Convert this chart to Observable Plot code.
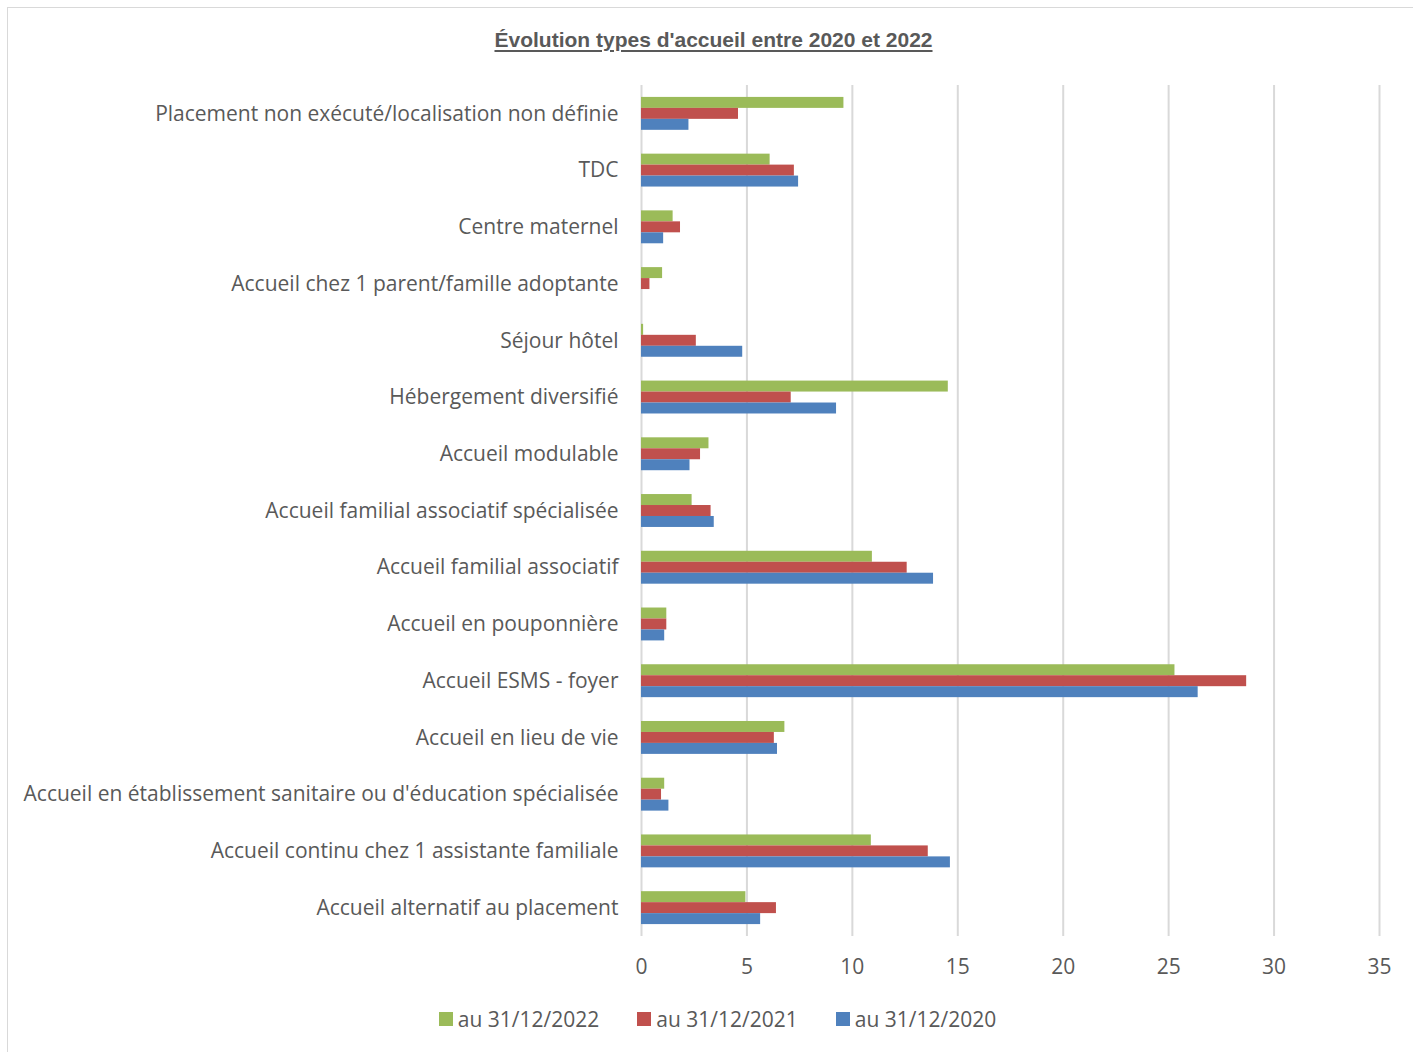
<!DOCTYPE html>
<html><head><meta charset="utf-8">
<script src="https://cdn.jsdelivr.net/npm/d3@7"></script>
<script src="https://cdn.jsdelivr.net/npm/@observablehq/plot@0.6"></script>
<style>
body{margin:0;background:#fff;overflow:hidden;}
#wrap{position:relative;width:1413px;height:1052px;}
#border{position:absolute;left:7px;top:7px;width:1420px;height:1060px;border:1px solid #d9d9d9;box-sizing:border-box;}
#title{position:relative;height:70px;box-sizing:border-box;padding-top:28px;padding-left:14px;text-align:center;font-family:"Liberation Sans",Arial,sans-serif;font-weight:bold;font-size:21px;color:#595959;}
#title span{text-decoration:underline;text-underline-offset:3px;}
#chart{position:relative;height:920px;}
#chart svg{position:absolute;left:0;top:0;}
#legend{position:relative;display:flex;justify-content:center;gap:38px;margin-top:15px;padding-left:22px;font-family:"Open Sans",sans-serif;font-size:21px;color:#595959;}
#legend .it{display:flex;align-items:center;gap:5px;}
#legend .sw{width:14px;height:14px;display:inline-block;}
</style></head>
<body><div id="wrap"><div id="border"></div>
<div id="title"><span>Évolution types d'accueil entre 2020 et 2022</span></div>
<div id="chart"></div>
<div id="legend"></div>
</div>
<script>
const categories = [
  "Placement non exécuté/localisation non définie",
  "TDC",
  "Centre maternel",
  "Accueil chez 1 parent/famille adoptante",
  "Séjour hôtel",
  "Hébergement diversifié",
  "Accueil modulable",
  "Accueil familial associatif spécialisée",
  "Accueil familial associatif",
  "Accueil en pouponnière",
  "Accueil ESMS - foyer",
  "Accueil en lieu de vie",
  "Accueil en établissement sanitaire ou d'éducation spécialisée",
  "Accueil continu chez 1 assistante familiale",
  "Accueil alternatif au placement"
];
const series = ["au 31/12/2022", "au 31/12/2021", "au 31/12/2020"];
const colors = ["#9BBB59", "#C0504D", "#4F81BD"];
const v2022 = [9.6, 6.1, 1.5, 1.0, 0.1, 14.55, 3.2, 2.4, 10.95, 1.2, 25.3, 6.8, 1.1, 10.9, 4.95];
const v2021 = [4.6, 7.25, 1.85, 0.4, 2.6, 7.1, 2.8, 3.3, 12.6, 1.2, 28.7, 6.3, 0.95, 13.6, 6.4];
const v2020 = [2.25, 7.45, 1.05, 0, 4.8, 9.25, 2.3, 3.45, 13.85, 1.1, 26.4, 6.45, 1.3, 14.65, 5.65];
const xTicks = [0, 5, 10, 15, 20, 25, 30, 35];

const valuesBySeries = [v2022, v2021, v2020];
const rows = [];
categories.forEach((c, i) => {
  series.forEach((s, j) => rows.push({category: c, series: s, value: valuesBySeries[j][i]}));
});

const common = {
  width: 1413,
  height: 920,
  marginTop: 15,
  marginBottom: 54,
  marginLeft: 641,
  marginRight: 34,
  style: {fontFamily: "'Open Sans', sans-serif", fontSize: "21px", color: "#595959", background: "transparent"}
};

// Background: continuous vertical gridlines + x axis labels
const back = Plot.plot({
  ...common,
  x: {domain: [0, 35], ticks: xTicks, tickSize: 0, tickPadding: 23, label: null},
  marks: [
    Plot.ruleX(xTicks, {stroke: "#d9d9d9", strokeWidth: 2})
  ]
});

// Foreground: grouped bars, faceted by category
const front = Plot.plot({
  ...common,
  x: {domain: [0, 35], axis: null},
  y: {domain: series, axis: null, padding: 0, round: false},
  fy: {domain: categories, paddingInner: 0.42, paddingOuter: 0.21, round: false, axis: "left", label: null, tickSize: 0, tickPadding: 23},
  color: {domain: series, range: colors},
  marks: [
    Plot.barX(rows, {x: "value", y: "series", fy: "category", fill: "series"})
  ]
});

const chartEl = document.getElementById("chart");
chartEl.appendChild(back);
chartEl.appendChild(front);

const legend = document.getElementById("legend");
series.forEach((s, i) => {
  const it = document.createElement("div");
  it.className = "it";
  it.innerHTML = `<span class="sw" style="background:${colors[i]}"></span><span>${s}</span>`;
  legend.appendChild(it);
});
</script>
</body></html>
